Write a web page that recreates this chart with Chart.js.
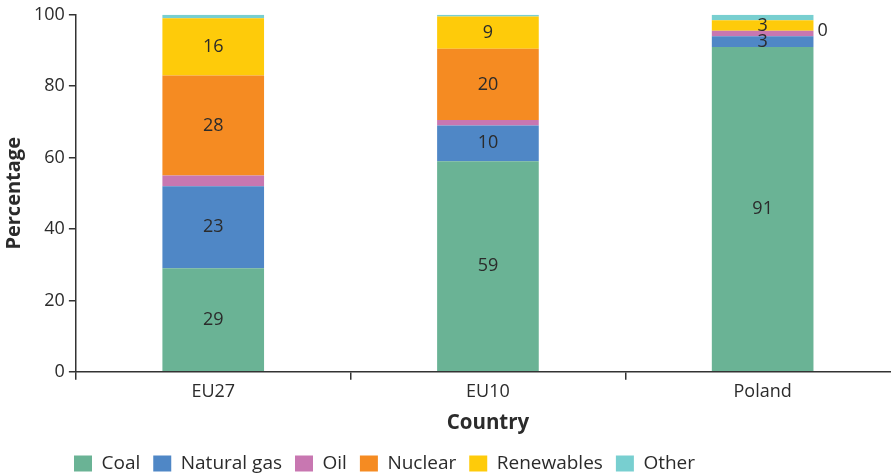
<!DOCTYPE html>
<html>
<head>
<meta charset="utf-8">
<script src="https://cdn.jsdelivr.net/npm/chart.js@4"></script>
<style>
  html, body { margin: 0; padding: 0; overflow: hidden; background: #fff; }
  #wrap { width: 900px; height: 473px; position: relative; }
</style>
</head>
<body>
<div id="wrap"><canvas id="c"></canvas></div>
<script>
// Electricity generation mix by fuel, share of total (%)
const countries = ['EU27', 'EU10', 'Poland'];
const coal = [29, 59, 91];
const naturalGas = [23, 10, 3];
const oil = [3, 1.5, 1.5];
const nuclear = [28, 20, 0];
const renewables = [16, 9, 3];
const other = [1, 0.5, 1.5];
const yTicks = [0, 20, 40, 60, 80, 100];

const FONT = '"Open Sans", "DejaVu Sans", sans-serif';
const TEXT = '#2b2b2b';

// Writes the value inside each labelled segment; a zero share goes beside the bar
const segmentLabels = {
  id: 'segmentLabels',
  afterDatasetsDraw(chart) {
    const ctx = chart.ctx;
    ctx.save();
    ctx.font = '18px ' + FONT;
    ctx.fillStyle = TEXT;
    ctx.textBaseline = 'middle';
    chart.data.datasets.forEach((ds, i) => {
      if (!ds.showValues) return;
      const meta = chart.getDatasetMeta(i);
      meta.data.forEach((bar, j) => {
        const v = ds.data[j];
        if (v === 0) {
          ctx.textAlign = 'left';
          ctx.fillText(String(v), bar.x + bar.width / 2 + 4, bar.y);
        } else {
          ctx.textAlign = 'center';
          ctx.fillText(String(v), bar.x, (bar.y + bar.base) / 2);
        }
      });
    });
    ctx.restore();
  }
};

// Legend row starts under the y axis rather than at the canvas edge
const legendPlacement = {
  id: 'legendPlacement',
  afterLayout(chart) {
    const lg = chart.legend;
    const pad = lg.options.labels.padding;
    lg.left = 74 - pad;
    lg.top += 6;
    lg.bottom += 6;
  }
};

new Chart(document.getElementById('c'), {
  type: 'bar',
  data: {
    labels: countries,
    datasets: [
      { label: 'Coal', data: coal, backgroundColor: '#6ab395', showValues: true },
      { label: 'Natural gas', data: naturalGas, backgroundColor: '#4f87c6', showValues: true },
      { label: 'Oil', data: oil, backgroundColor: '#c877b1', showValues: false },
      { label: 'Nuclear', data: nuclear, backgroundColor: '#f58b22', showValues: true },
      { label: 'Renewables', data: renewables, backgroundColor: '#fecb0a', showValues: true },
      { label: 'Other', data: other, backgroundColor: '#78cfd0', showValues: false }
    ]
  },
  options: {
    responsive: true,
    maintainAspectRatio: false,
    animation: false,
    categoryPercentage: 1,
    barPercentage: 0.37,
    layout: { padding: { top: 9.5, left: 2, right: 0, bottom: -4 } },
    plugins: {
      tooltip: { enabled: false },
      legend: {
        position: 'bottom',
        align: 'start',
        labels: {
          boxWidth: 18,
          boxHeight: 16,
          padding: 13,
          color: TEXT,
          font: { family: FONT, size: 19 }
        }
      }
    },
    scales: {
      x: {
        stacked: true,
        border: { display: true, color: '#333', width: 1.5 },
        grid: { offset: true, drawOnChartArea: false, drawTicks: true, tickLength: 8, color: '#333', lineWidth: 1.5 },
        ticks: { color: TEXT, font: { family: FONT, size: 18 }, padding: 1 },
        title: { display: true, text: 'Country', color: TEXT, font: { family: FONT, size: 20.5, weight: 'bold' }, padding: { top: 7, bottom: 0 } }
      },
      y: {
        stacked: true,
        min: 0,
        max: 100,
        afterBuildTicks(scale) { scale.ticks = yTicks.map(v => ({ value: v })); },
        border: { display: true, color: '#333', width: 1.5 },
        grid: { drawOnChartArea: false, drawTicks: true, tickLength: 7, color: '#333', lineWidth: 1.5 },
        ticks: { color: TEXT, font: { family: FONT, size: 18 }, padding: 4 },
        title: { display: true, text: 'Percentage', color: TEXT, font: { family: FONT, size: 20, weight: 'bold' }, padding: { top: 0, bottom: 4 } }
      }
    }
  },
  plugins: [segmentLabels, legendPlacement]
});
</script>
</body>
</html>
